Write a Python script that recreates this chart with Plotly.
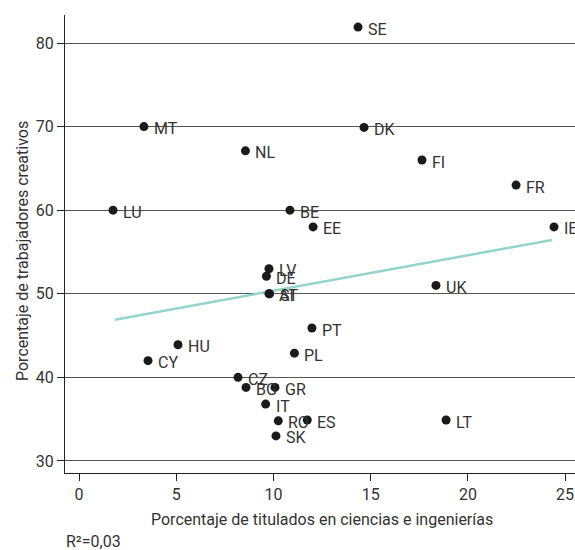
import plotly.graph_objects as go

countries = ["SE", "DK", "MT", "NL", "FI", "FR", "LU", "BE", "EE", "IE", "LV", "DE",
             "AT", "SI", "UK", "PT", "PL", "HU", "CY", "CZ", "BG", "GR", "IT", "RO",
             "ES", "LT", "SK"]
titulados = [14.35, 14.66, 3.34, 8.56, 17.64, 22.48, 1.75, 10.85, 12.04, 24.43, 9.77, 9.64,
             9.77, 9.8, 18.36, 11.98, 11.08, 5.09, 3.55, 8.18, 8.59, 10.08, 9.6, 10.25,
             11.74, 18.88, 10.13]
creativos = [81.9, 69.9, 70.0, 67.1, 66.0, 63.0, 60.0, 60.0, 58.0, 58.0, 53.0, 52.1,
             50.0, 50.0, 51.0, 45.9, 42.9, 43.9, 42.0, 40.0, 38.8, 38.8, 36.8, 34.8,
             34.9, 34.9, 33.0]

trend_x = [1.85, 24.32]
trend_y = [46.9, 56.44]

x_ticks = [0, 5, 10, 15, 20, 25]
y_ticks = [30, 40, 50, 60, 70, 80]

x_title = "Porcentaje de titulados en ciencias e ingenierías"
y_title = "Porcentaje de trabajadores creativos"
r2_text = "R²=0,03"

FONT = "Roboto, 'DejaVu Sans', sans-serif"
TXT = "#333333"
FS = 16

# plot area on the page: x 65..575, y 15..473
PL, PT, PR, PB = 65, 15, 575, 473
PW, PH = PR - PL, PB - PT

fig = go.Figure()
fig.add_trace(go.Scatter(x=trend_x, y=trend_y, mode="lines",
                         line=dict(color="#93d4cb", width=2.5),
                         hoverinfo="skip", showlegend=False))
fig.add_trace(go.Scatter(x=titulados, y=creativos, mode="markers",
                         marker=dict(color="#1a1a1a", size=9),
                         hovertext=countries, cliponaxis=False, showlegend=False))

label_annotations = [
    dict(x=xv, y=yv, xref="x", yref="y", text=c, showarrow=False,
         xanchor="left", yanchor="middle", xshift=8, yshift=-2,
         font=dict(family=FONT, size=FS, color=TXT))
    for c, xv, yv in zip(countries, titulados, creativos)
]

fig.update_layout(
    width=575, height=550,
    margin=dict(l=PL, r=575 - PR, t=PT, b=550 - PB, pad=0),
    paper_bgcolor="white", plot_bgcolor="white",
    font=dict(family=FONT, size=FS, color=TXT),
    xaxis=dict(range=[-0.72, 25.51], tickvals=x_ticks, showgrid=False, zeroline=False,
               showline=True, linecolor="#222222", linewidth=1.2,
               ticks="outside", ticklen=7, tickcolor="#222222", tickwidth=1.2,
               tickfont=dict(family=FONT, size=FS, color=TXT)),
    yaxis=dict(range=[28.56, 83.35], tickvals=y_ticks, showgrid=True,
               gridcolor="#555555", gridwidth=1, zeroline=False,
               showline=True, linecolor="#222222", linewidth=1.2,
               ticks="outside", ticklen=7, tickcolor="#222222", tickwidth=1.2,
               tickfont=dict(family=FONT, size=FS, color=TXT)),
    annotations=label_annotations + [
        dict(text=x_title, xref="paper", yref="paper", x=(322 - PL) / PW,
             y=-(519 - PB) / PH, xanchor="center", yanchor="middle",
             showarrow=False, font=dict(family=FONT, size=FS, color=TXT)),
        dict(text=y_title, xref="paper", yref="paper", x=-(PL - 22) / PW,
             y=(PB - 251) / PH, xanchor="center", yanchor="middle", textangle=-90,
             showarrow=False, font=dict(family=FONT, size=FS, color=TXT)),
        dict(text=r2_text, xref="paper", yref="paper", x=(64 - PL) / PW,
             y=-(541 - PB) / PH, xanchor="left", yanchor="middle",
             showarrow=False, font=dict(family=FONT, size=FS, color=TXT)),
    ],
)

fig.write_html("out.html",
               config={"displayModeBar": False},
               post_script="document.body.style.margin='0';document.body.style.overflow='hidden';")
